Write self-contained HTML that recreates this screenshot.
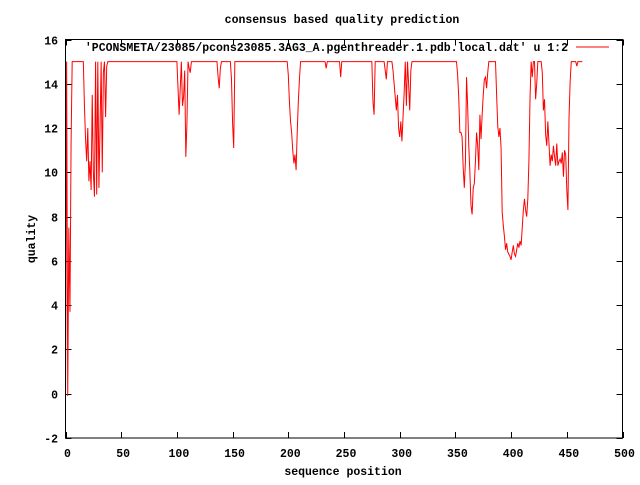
<!DOCTYPE html>
<html><head><meta charset="utf-8"><style>
body{margin:0;background:#fff}
svg text{font-family:"Liberation Mono",monospace;font-size:11.5px;font-weight:bold;fill:#000}
</style></head><body>
<svg width="640" height="480">
<text x="342" y="23" text-anchor="middle">consensus based quality prediction</text>
<text x="343" y="475" text-anchor="middle">sequence position</text>
<text transform="translate(35,239) rotate(-90)" text-anchor="middle">quality</text>
<g id="axes"></g>
<path id="series" fill="none" stroke="#ff0000" stroke-width="1"/>
<text x="568" y="51" text-anchor="end">'PCONSMETA/23085/pcons23085.3AG3_A.pgenthreader.1.pdb.local.dat' u 1:2</text>
<line x1="576" y1="47" x2="609" y2="47" stroke="#ff0000"/>
<rect x="65.5" y="39.5" width="557" height="398.5" fill="none" stroke="#000"/>
</svg>
<script>
const xTicks=[0,50,100,150,200,250,300,350,400,450,500];
const yTicks=[-2,0,2,4,6,8,10,12,14,16];
const quality=[-0.1,15,-0.1,7.5,3.7,11.3,15,
15,15,15,15,15,15,15,15,15,15,
13,11.5,10.5,12,9.6,10.5,9.2,13.5,10,8.9,15,9,15,9.3,12,15,10,14.5,15,12.5,14.8,
15,15,15,15,15,15,15,15,15,15,15,15,15,15,15,15,15,15,15,15,15,15,15,15,15,15,15,15,15,15,15,15,15,15,15,15,15,15,15,15,15,15,15,15,15,15,15,15,15,15,15,15,15,15,15,15,15,15,15,15,15,15,15,
13.8,12.6,13.8,15,13,13.4,14.6,10.7,12.2,15,14.7,14.5,
15,15,15,15,15,15,15,15,15,15,15,15,15,15,15,15,15,15,15,15,15,15,15,15,
14.3,13.8,14.7,
15,15,15,15,15,15,15,15,15,
14.2,12.2,11.1,
15,15,15,15,15,15,15,15,15,15,15,15,15,15,15,15,15,15,15,15,15,15,15,15,15,15,15,15,15,15,15,15,15,15,15,15,15,15,15,15,15,15,15,15,15,15,15,15,
14.4,13.2,12.3,11.8,11,10.4,10.8,10.1,11.8,13.2,14.2,
15,15,15,15,15,15,15,15,15,15,15,15,15,15,15,15,15,15,15,15,15,15,15,
14.7,
15,15,15,15,15,15,15,15,15,15,15,15,
14.3,
15,15,15,15,15,15,15,15,15,15,15,15,15,15,15,15,15,15,15,15,15,15,15,15,15,15,15,15,
13.2,12.6,
15,15,15,15,15,15,15,15,15,
14.6,14.2,
15,15,15,15,15,
14.6,14,13.4,12.8,13.5,12,11.6,12.3,11.4,12.5,13.6,15,13,15,14,12.8,14.6,
15,15,15,15,15,15,15,15,15,15,15,15,15,15,15,15,15,15,15,15,15,15,15,15,15,15,15,15,15,15,15,15,15,15,15,15,15,15,15,15,15,
14.4,13.4,11.8,11.8,11.6,10.2,9.3,10.5,14.3,13,11.2,10,8.5,8.1,9.3,9.5,10.5,11.8,11.2,10.1,12.6,11.5,12.6,13.5,14.2,14.3,13.8,14.5,
15,15,15,15,15,15,15,
13.5,12.1,11.6,12,11.1,8.2,7.6,7.1,6.5,6.8,6.4,6.3,6.2,6.05,6.4,6.7,6.3,6.2,6.5,6.8,6.6,6.9,6.7,7.5,8.3,8.8,8.3,8,8.8,10.5,13.4,15,14.3,15,15,13.3,14,15,15,15,15,14.5,12.8,13.3,11.7,11.2,12.3,11.3,10.3,10.8,10.5,11.2,10.7,10.3,11.3,10.3,10.5,10.6,10.4,10.9,9.8,11,10.8,9.2,8.3,12.5,14.1,
15,15,15,15,15,14.8,15,15,15,15,15];
const X0=65.5,X1=622.5,Y0=438,Y1=39.5;
function sx(v){return X0+(v-0)/(500-0)*(X1-X0);}
function sy(v){return Y0-(v+2)/(16+2)*(Y0-Y1);}
const NS="http://www.w3.org/2000/svg";
const g=document.getElementById('axes');
function mk(t,a){const e=document.createElementNS(NS,t);for(const k in a)e.setAttribute(k,a[k]);return e;}
xTicks.forEach(v=>{
  const x=Math.round(sx(v))+0.5;
  const t1=mk('line',{x1:x,x2:x,y1:Y0,y2:Y0-6,stroke:'#000'});
  
  
  g.appendChild(t1);
  const t2=mk('line',{x1:x,x2:x,y1:Y1,y2:Y1+6,stroke:'#000'});
  
  
  g.appendChild(t2);
  const l=mk('text',{x:sx(v)+2,y:457,'text-anchor':'middle'});
  
  
  l.textContent=v;g.appendChild(l);
});
yTicks.forEach(v=>{
  const y=Math.round(sy(v))+0.5;
  const t1=mk('line',{x1:X0,x2:X0+6,y1:y,y2:y,stroke:'#000'});
  
  
  g.appendChild(t1);
  const t2=mk('line',{x1:X1,x2:X1-6,y1:y,y2:y,stroke:'#000'});
  
  
  g.appendChild(t2);
  const l=mk('text',{x:58,y:y+4,'text-anchor':'end'});
  
  
  l.textContent=v;g.appendChild(l);
});
let d='';
quality.forEach((v,i)=>{d+=(i?'L':'M')+sx(i).toFixed(2)+','+sy(v).toFixed(2);});
document.getElementById('series').setAttribute('d',d);
</script>
</body></html>
